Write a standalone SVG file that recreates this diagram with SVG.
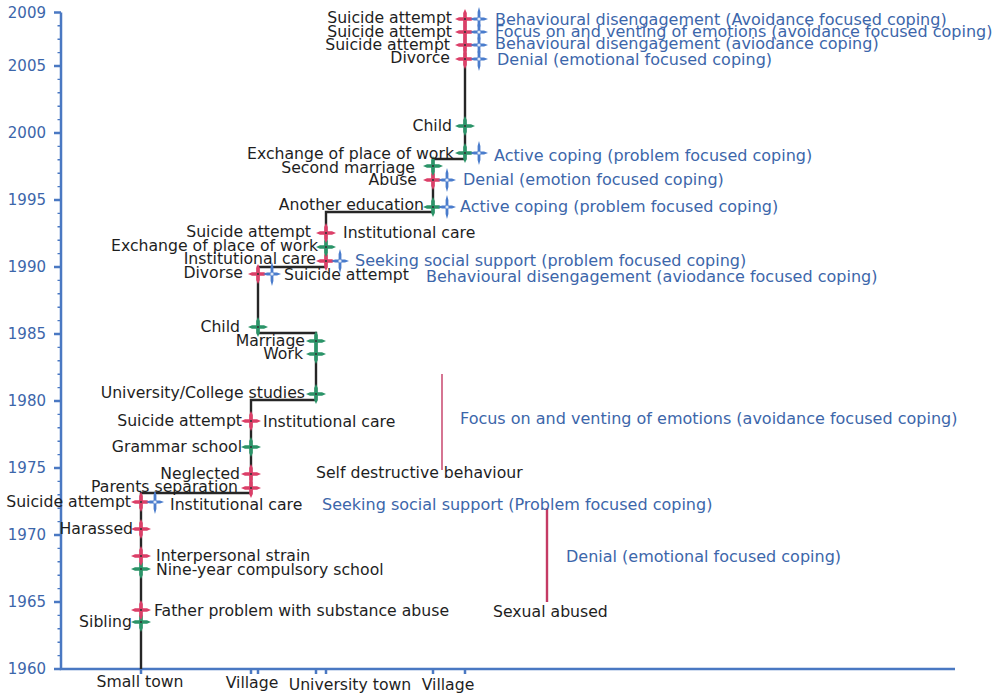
<svg xmlns="http://www.w3.org/2000/svg" xmlns:xlink="http://www.w3.org/1999/xlink" width="1000" height="694" viewBox="0 0 1000 694">
<style>
text{font-family:"DejaVu Sans","Liberation Sans",sans-serif;}
.k{font-size:15.7px;fill:#1e1e1e;}
.b{font-size:16px;fill:#3c66aa;}
.yr{font-size:15px;fill:#3c66aa;text-anchor:end;}
.e{text-anchor:end;}
.m{text-anchor:middle;}
.r{fill:#dc3f68;}
.g{fill:#2b9468;}
.bl{fill:#4a7ccc;}
.axis{stroke:#4a78c2;stroke-width:2.5;fill:none;}
.tl{stroke:#262626;stroke-width:2.4;fill:none;}
.ann{stroke:#c43a64;fill:none;}
</style>
<defs>
<g id="st"><path d="M-10,0 L-6,-1.8 L-1.8,-1.8 L-1.8,-6 L0,-10 L1.8,-6 L1.8,-1.8 L6,-1.8 L10,0 L6,1.8 L1.8,1.8 L1.8,6 L0,10 L-1.8,6 L-1.8,1.8 L-6,1.8 Z"/><circle r="1.1" fill="#333"/></g>
<g id="sb"><path d="M-9,0 L-5,-1.4 L-1.4,-1.4 L-1.4,-7 L0,-12 L1.4,-7 L1.4,-1.4 L5,-1.4 L9,0 L5,1.4 L1.4,1.4 L1.4,7 L0,12 L-1.4,7 L-1.4,1.4 L-5,1.4 Z"/><circle r="1.6" fill="#dfe8f7"/></g>
</defs>
<rect width="1000" height="694" fill="#ffffff"/>

<g id="axes">
<path class="axis" d="M61,12.4 V669 H955"/>
<path class="axis" d="M54,12.4 H61 M54,66 H61 M54,133 H61 M54,200 H61 M54,267 H61 M54,334 H61 M54,401 H61 M54,468 H61 M54,535 H61 M54,602 H61 M54,669 H61"/>
<line x1="59" y1="12.4" x2="59" y2="669" stroke="#4a78c2" stroke-width="3" stroke-dasharray="1.4 12" stroke-dashoffset="0.7"/>
<path class="axis" stroke-width="1.6" d="M141,669 v5 M251,669 v5 M258,669 v5 M316,669 v5 M326,669 v5 M433,669 v5 M465,669 v5"/>
<text class="yr" x="46" y="18">2009</text>
<text class="yr" x="46" y="71">2005</text>
<text class="yr" x="46" y="138">2000</text>
<text class="yr" x="46" y="205">1995</text>
<text class="yr" x="46" y="272">1990</text>
<text class="yr" x="46" y="339">1985</text>
<text class="yr" x="46" y="406">1980</text>
<text class="yr" x="46" y="473">1975</text>
<text class="yr" x="46" y="540">1970</text>
<text class="yr" x="46" y="607">1965</text>
<text class="yr" x="46" y="674">1960</text>
<text class="k m" x="140" y="687">Small town</text>
<text class="k m" x="252" y="688">Village</text>
<text class="k m" x="350" y="690">University town</text>
<text class="k m" x="448" y="690">Village</text>
</g>

<g id="connectors">
<path class="tl" d="M141,669 V493 H251 V400 H316 V333 H258 V267 H326 V212 H433 V159 H465 V19"/>
</g>

<g id="n-sibling"><use xlink:href="#st" class="g" x="141" y="622"/><text class="k e" x="132" y="627">Sibling</text></g>
<g id="n-father"><use xlink:href="#st" class="r" x="141" y="610"/><text class="k" x="154" y="616">Father problem with substance abuse</text></g>
<g id="n-nineyear"><use xlink:href="#st" class="g" x="141" y="569"/><text class="k" x="156" y="575">Nine-year compulsory school</text></g>
<g id="n-strain"><use xlink:href="#st" class="r" x="141" y="556"/><text class="k" x="156" y="561">Interpersonal strain</text></g>
<g id="n-harassed"><use xlink:href="#st" class="r" x="141" y="529"/><text class="k e" x="133" y="534">Harassed</text></g>
<g id="n-suicide1972"><use xlink:href="#st" class="r" x="141" y="502"/><use xlink:href="#sb" class="bl" x="155" y="502"/><text class="k e" x="131" y="507">Suicide attempt</text><text class="k" x="170" y="510">Institutional care</text></g>
<g id="n-parents"><use xlink:href="#st" class="r" x="251" y="488"/><text class="k e" x="238" y="492">Parents separation</text></g>
<g id="n-neglected"><use xlink:href="#st" class="r" x="251" y="474"/><text class="k e" x="240" y="479">Neglected</text></g>
<g id="n-grammar"><use xlink:href="#st" class="g" x="251" y="447"/><text class="k e" x="242" y="452">Grammar school</text></g>
<g id="n-suicide1978"><use xlink:href="#st" class="r" x="251" y="421"/><text class="k e" x="242" y="426">Suicide attempt</text><text class="k" x="263" y="427">Institutional care</text></g>
<g id="n-university"><use xlink:href="#st" class="g" x="316" y="394"/><text class="k e" x="305" y="398">University/College studies</text></g>
<g id="n-work"><use xlink:href="#st" class="g" x="316" y="354"/><text class="k e" x="303" y="359">Work</text></g>
<g id="n-marriage"><use xlink:href="#st" class="g" x="316" y="341"/><text class="k e" x="305" y="346">Marriage</text></g>
<g id="n-child1985"><use xlink:href="#st" class="g" x="258" y="327"/><text class="k e" x="240" y="332">Child</text></g>
<g id="n-divorse"><use xlink:href="#st" class="r" x="258" y="274"/><use xlink:href="#sb" class="bl" x="272" y="274"/><text class="k e" x="243" y="278">Divorse</text><text class="k" x="284" y="280">Suicide attempt</text><text class="b" x="426" y="282">Behavioural disengagement (aviodance focused coping)</text></g>
<g id="n-inst1990"><use xlink:href="#st" class="r" x="326" y="261"/><use xlink:href="#sb" class="bl" x="340" y="261"/><text class="k e" x="316" y="264">Institutional care</text><text class="b" x="355" y="266">Seeking social support (problem focused coping)</text></g>
<g id="n-exchange1991"><use xlink:href="#st" class="g" x="326" y="247"/><text class="k e" x="318" y="251">Exchange of place of work</text></g>
<g id="n-suicide1992"><use xlink:href="#st" class="r" x="326" y="233"/><text class="k e" x="311" y="237">Suicide attempt</text><text class="k" x="343" y="238">Institutional care</text></g>
<g id="n-education"><use xlink:href="#st" class="g" x="433" y="207"/><use xlink:href="#sb" class="bl" x="447" y="207"/><text class="k e" x="424" y="210">Another education</text><text class="b" x="460" y="212">Active coping (problem focused coping)</text></g>
<g id="n-abuse"><use xlink:href="#st" class="r" x="433" y="180"/><use xlink:href="#sb" class="bl" x="447" y="180"/><text class="k e" x="417" y="185">Abuse</text><text class="b" x="463" y="185">Denial (emotion focused coping)</text></g>
<g id="n-second"><use xlink:href="#st" class="g" x="433" y="166"/><text class="k e" x="415" y="173">Second marriage</text></g>
<g id="n-exchange1998"><use xlink:href="#st" class="g" x="465" y="153"/><use xlink:href="#sb" class="bl" x="479" y="153"/><text class="k e" x="454" y="159">Exchange of place of work</text><text class="b" x="494" y="161">Active coping (problem focused coping)</text></g>
<g id="n-child2000"><use xlink:href="#st" class="g" x="465" y="126"/><text class="k e" x="452" y="131">Child</text></g>
<g id="n-divorce"><use xlink:href="#st" class="r" x="465" y="59"/><use xlink:href="#sb" class="bl" x="479" y="59"/><text class="k e" x="450" y="63">Divorce</text><text class="b" x="497" y="65">Denial (emotional focused coping)</text></g>
<g id="n-suicide2006"><use xlink:href="#st" class="r" x="465" y="45"/><use xlink:href="#sb" class="bl" x="479" y="45"/><text class="k e" x="450" y="50">Suicide attempt</text><text class="b" x="495" y="49">Behavioural disengagement (aviodance coping)</text></g>
<g id="n-suicide2007"><use xlink:href="#st" class="r" x="465" y="32"/><use xlink:href="#sb" class="bl" x="479" y="32"/><text class="k e" x="452" y="37">Suicide attempt</text><text class="b" x="495" y="37">Focus on and venting of emotions (avoidance focused coping)</text></g>
<g id="n-suicide2008"><use xlink:href="#st" class="r" x="465" y="19"/><use xlink:href="#sb" class="bl" x="479" y="19"/><text class="k e" x="452" y="23">Suicide attempt</text><text class="b" x="495" y="25">Behavioural disengagement (Avoidance focused coping)</text></g>

<g id="n-selfdestructive"><line class="ann" x1="442" y1="374" x2="442" y2="470" stroke-width="1.4"/><text class="b" x="460" y="424">Focus on and venting of emotions (avoidance focused coping)</text><text class="k" x="316" y="478">Self destructive behaviour</text></g>
<g id="n-sexualabuse"><line class="ann" x1="547" y1="508" x2="547" y2="602" stroke-width="2.4"/><text class="b" x="322" y="510">Seeking social support (Problem focused coping)</text><text class="b" x="566" y="562">Denial (emotional focused coping)</text><text class="k" x="493" y="617">Sexual abused</text></g>
</svg>
